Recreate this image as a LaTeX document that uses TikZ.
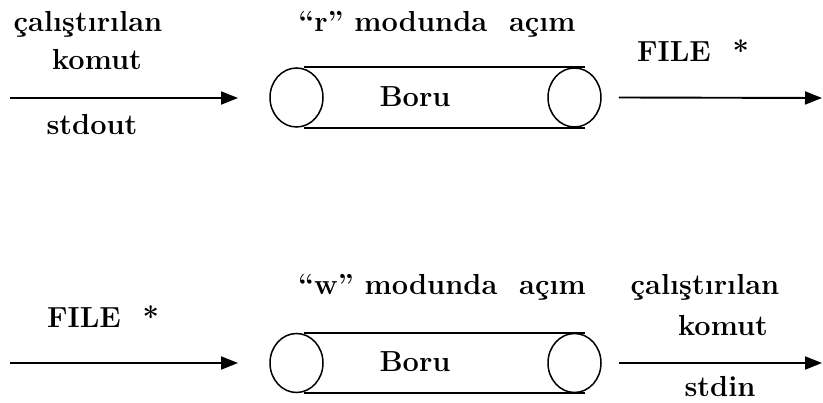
\documentclass[tikz,border=0pt]{standalone}
\usetikzlibrary{arrows.meta,shapes.geometric}
\begin{document}
\begin{tikzpicture}[x=1pt,y=-1pt,
  txt/.style={font=\fontsize{29}{33}\selectfont\bfseries, inner sep=0pt, anchor=base},
  pipeend/.style={draw, ellipse, line width=1.5pt, minimum width=53pt, minimum height=59pt, inner sep=0pt},
  tube/.style={line width=1.6pt},
  arr/.style={line width=1.9pt, -{Triangle[length=17pt,width=13pt]}}]
\useasboundingbox[fill=white] (0,0) rectangle (823,403);
% top row
\node[txt] (t1a) at (88,32) {çalıştırılan};
\node[txt] (t1b) at (97,70) {komut};
\node[txt] (t1c) at (92,135) {stdout};
\node[txt] (t1m) at (437,32) {“r” modunda\ \ açım};
\node[pipeend] (l1) at (296.5,97.5) {};
\node[pipeend] (r1) at (574.5,97.5) {};
\draw[tube] ([xshift=7pt]l1.north) -- ([xshift=10pt]r1.north);
\draw[tube] ([xshift=7pt]l1.south) -- ([xshift=10pt]r1.south);
\node[txt] (b1) at (415,107) {Boru};
\node[txt] (f1) at (693,62) {FILE\ \ *};
\coordinate (a1s) at (10,98);
\coordinate (a1e) at (238,98);
\coordinate (a2e) at (822,98);
\draw[arr] (a1s) -- (a1e);
\draw[arr] ([xshift=17pt]r1.east) -- (a2e);
% bottom row
\node[txt] (f2) at (103,328) {FILE\ \ *};
\node[txt] (t2m) at (442,295) {“w” modunda\ \ açım};
\node[pipeend] (l2) at (296.5,363) {};
\node[pipeend] (r2) at (574.5,363) {};
\draw[tube] ([xshift=7pt]l2.north) -- ([xshift=10pt]r2.north);
\draw[tube] ([xshift=7pt]l2.south) -- ([xshift=10pt]r2.south);
\node[txt] (b2) at (415,372) {Boru};
\node[txt] (t2a) at (705,295) {çalıştırılan};
\node[txt] (t2b) at (723,336) {komut};
\node[txt] (t2c) at (720,397) {stdin};
\coordinate (a3s) at (10,363);
\coordinate (a3e) at (238,363);
\coordinate (a4e) at (822,363);
\draw[arr] (a3s) -- (a3e);
\draw[arr] ([xshift=17pt]r2.east) -- (a4e);
\end{tikzpicture}
\end{document}
